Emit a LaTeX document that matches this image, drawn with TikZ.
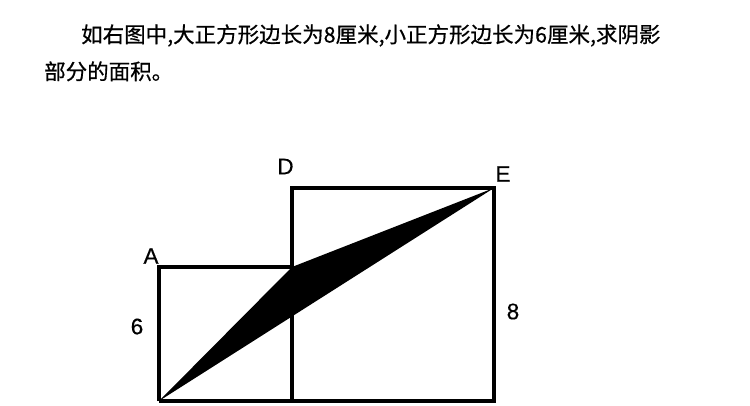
\documentclass[tikz,border=0pt]{standalone}
\usepackage{fontspec}
\setmainfont{Liberation Sans}
\newfontfamily\cjk[FakeBold=0.6]{Noto Sans CJK SC}
\newfontfamily\lab[FakeBold=0.4]{Liberation Sans}
\usepackage{tikz}

\begin{document}
\begin{tikzpicture}[x=1pt,y=-1pt]
\tikzstyle{square}=[line width=3.6pt, line join=miter]
\tikzstyle{letter}=[font=\lab\fontsize{22.5}{26}\selectfont, inner sep=0pt]
\tikzstyle{question}=[font=\cjk\fontsize{21.5}{26}\selectfont, inner sep=0pt, anchor=base west]
\useasboundingbox (0,0) rectangle (750,406);

% question text
\node[question] (line1) at (81,42.5) {如右图中,大正方形边长为8厘米,小正方形边长为6厘米,求阴影};
\node[question] (line2) at (44,79.5) {部分的面积。};

% corners
\coordinate (B) at (159,401);
\coordinate (A) at (159,267);
\coordinate (C) at (292,267);
\coordinate (D) at (292,188);
\coordinate (E) at (494,188);
\coordinate (F) at (494,401);
\coordinate (G) at (292,401);

% shaded part
\fill (B) -- (C) -- (E) -- cycle;

% small square
\draw[square] (B) -- (A) -- (C) -- (G);

% big square
\draw[square] (B) -- (F) -- (E) -- (D) -- (G);

% labels
\node[letter] (labA) at (151,256) {A};
\node[letter] (labD) at (285.5,166.5) {D};
\node[letter] (labE) at (503,174) {E};
\node[letter] (lab6) at (137,326.5) {6};
\node[letter] (lab8) at (513,311.5) {8};
\end{tikzpicture}
\end{document}
